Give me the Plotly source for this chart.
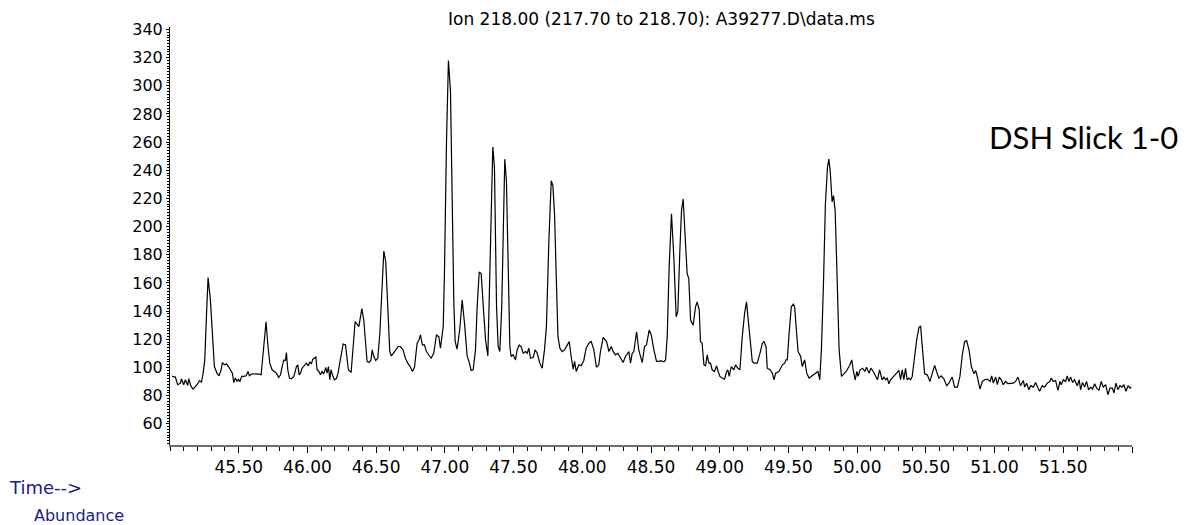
import plotly.graph_objects as go

# ---- data: retention time (min) and abundance ----
t_seg1 = [45.015, 45.039, 45.056, 45.076, 45.083, 45.100, 45.112, 45.129, 45.136, 45.153,
          45.168, 45.197, 45.214, 45.229, 45.241, 45.253, 45.265, 45.277, 45.294, 45.313,
          45.323, 45.342, 45.357, 45.372, 45.381, 45.396, 45.411, 45.425, 45.440, 45.454,
          45.464, 45.476, 45.488, 45.498, 45.508, 45.522, 45.537, 45.554, 45.568, 45.578,
          45.597, 45.622, 45.646, 45.663, 45.677, 45.690, 45.699, 45.711, 45.726, 45.743,
          45.760, 45.774, 45.791, 45.804, 45.816, 45.828, 45.840, 45.847, 45.857, 45.869,
          45.884, 45.901, 45.920, 45.930, 45.940, 45.949, 45.961, 45.978, 45.993, 46.007,
          46.017, 46.029, 46.039, 46.051, 46.061, 46.070, 46.083, 46.095, 46.107, 46.119,
          46.134, 46.143, 46.153, 46.163, 46.172, 46.182, 46.196, 46.211, 46.223, 46.235,
          46.247, 46.260, 46.277, 46.289, 46.298, 46.318, 46.332, 46.347, 46.361, 46.374,
          46.386, 46.396, 46.410, 46.422, 46.434, 46.449, 46.463, 46.471, 46.483, 46.497,
          46.512, 46.527, 46.539, 46.556, 46.570, 46.585, 46.599, 46.611, 46.628, 46.643,
          46.660, 46.677]
a_seg1 = [93.7, 93.2, 87.8, 88.9, 92.0, 87.8, 91.3, 87.3, 92.0, 86.6,
          84.7, 87.8, 90.6, 89.7, 96.0, 105.4, 136.0, 163.8, 147.8, 114.9,
          100.7, 96.0, 94.1, 98.4, 103.5, 101.9, 102.6, 100.7, 98.4, 96.0,
          89.4, 92.5, 90.1, 91.8, 89.9, 93.7, 93.7, 94.1, 97.2, 94.1,
          95.5, 95.5, 95.3, 94.8, 107.8, 124.3, 132.5, 117.2, 103.1, 98.4,
          97.2, 96.0, 92.9, 94.8, 100.7, 105.4, 105.0, 110.6, 98.4, 92.5,
          92.0, 93.7, 100.7, 101.9, 94.8, 96.0, 99.5, 101.2, 103.1, 101.2,
          104.0, 102.6, 105.9, 106.6, 107.8, 98.4, 97.2, 94.8, 97.2, 95.5,
          100.0, 96.0, 100.7, 91.3, 98.4, 94.8, 91.3, 92.2, 96.0, 103.1,
          110.1, 116.7, 116.0, 107.8, 98.4, 96.5, 112.5, 132.5, 130.8, 129.0,
          136.0, 141.9, 133.7, 117.2, 104.3, 103.5, 105.4, 112.5, 107.8, 105.0,
          106.6, 124.3, 152.5, 182.7, 174.9, 140.8, 111.3, 108.2, 110.1, 112.5,
          114.9, 114.9]

t_seg2 = [46.696, 46.713, 46.730, 46.750, 46.764, 46.779, 46.798, 46.810, 46.822, 46.837,
          46.851, 46.866, 46.883, 46.900, 46.919]
a_seg2 = [112.5, 106.6, 103.1, 100.2, 97.2, 100.2, 117.2, 119.1, 123.1, 116.0,
          116.0, 111.3, 108.9, 106.6, 110.1]

t_seg3 = [46.939, 46.956, 46.968, 46.988, 46.997, 47.012, 47.026, 47.041, 47.053, 47.065,
          47.075, 47.089, 47.108, 47.126, 47.143, 47.162, 47.179, 47.191, 47.206, 47.223,
          47.235, 47.250, 47.264, 47.279, 47.296, 47.313, 47.332, 47.349, 47.361, 47.376,
          47.388, 47.400, 47.414, 47.424, 47.436, 47.448, 47.463, 47.473, 47.482, 47.497,
          47.514, 47.526, 47.541, 47.555, 47.570, 47.587, 47.599, 47.611, 47.623, 47.643,
          47.657, 47.672, 47.691, 47.708, 47.725, 47.739, 47.757, 47.774, 47.786, 47.798,
          47.810, 47.823, 47.837, 47.854, 47.871, 47.886, 47.905, 47.919, 47.934, 47.944,
          47.956, 47.975, 47.992, 48.011, 48.028, 48.048, 48.065, 48.084, 48.103, 48.120,
          48.132, 48.152, 48.177, 48.194, 48.211, 48.225, 48.242, 48.259, 48.278]
a_seg3 = [123.1, 121.9, 113.7, 129.0, 166.7, 260.9, 317.9, 296.2, 213.8, 147.8,
          118.4, 113.0, 126.6, 147.8, 131.3, 108.3, 103.1, 97.9, 98.4, 112.5,
          143.1, 167.8, 166.7, 147.8, 119.6, 108.3, 178.4, 256.6, 242.0, 143.1,
          114.9, 111.3, 143.1, 190.2, 247.9, 232.6, 143.1, 114.9, 107.8, 109.0,
          105.4, 112.5, 116.0, 114.9, 110.1, 111.3, 110.1, 113.7, 106.6, 107.3,
          112.5, 110.1, 103.1, 99.5, 112.5, 129.0, 190.2, 232.6, 229.1, 209.1,
          166.7, 121.9, 113.7, 111.3, 112.5, 114.9, 118.4, 107.8, 98.8, 104.3,
          97.2, 101.9, 101.2, 105.0, 113.7, 117.2, 118.4, 112.5, 100.2, 101.9,
          111.3, 121.4, 118.4, 111.3, 114.9, 111.3, 109.0, 110.1, 106.6]

t_seg4 = [48.297, 48.314, 48.339, 48.351, 48.363, 48.375, 48.395, 48.411, 48.436, 48.453,
          48.467, 48.487, 48.502, 48.521, 48.540, 48.557, 48.569, 48.594, 48.606, 48.618,
          48.632, 48.649, 48.666, 48.683, 48.695, 48.710, 48.722, 48.734, 48.751, 48.763,
          48.775, 48.788, 48.807, 48.824, 48.836, 48.851, 48.860, 48.872, 48.885, 48.897,
          48.909, 48.921, 48.933, 48.945, 48.962, 48.977, 48.989, 49.001, 49.018, 49.035,
          49.050, 49.059, 49.069, 49.084, 49.103, 49.115, 49.132, 49.147, 49.164, 49.181,
          49.195, 49.210, 49.225, 49.237, 49.249, 49.273, 49.293, 49.310, 49.322, 49.337,
          49.346, 49.366, 49.383, 49.395, 49.407, 49.431, 49.456, 49.473, 49.482, 49.492,
          49.504, 49.521, 49.536, 49.545, 49.558, 49.570, 49.589, 49.601, 49.618, 49.633,
          49.650, 49.667, 49.681, 49.698, 49.715, 49.728, 49.740, 49.755, 49.769, 49.784,
          49.794, 49.804, 49.818, 49.828, 49.840, 49.852, 49.869, 49.886, 49.906, 49.920,
          49.944, 49.961, 49.973, 49.986, 49.998, 50.007, 50.022, 50.039, 50.056, 50.068,
          50.087, 50.100, 50.117, 50.131, 50.148, 50.163]
a_seg4 = [103.5, 107.8, 111.3, 103.1, 110.1, 111.3, 125.4, 112.5, 103.5, 114.8,
          116.0, 126.6, 123.1, 112.5, 104.3, 104.3, 104.9, 104.0, 105.4, 121.9,
          171.4, 209.1, 178.4, 136.0, 139.6, 183.2, 211.4, 219.6, 185.5, 166.7,
          163.1, 133.7, 130.1, 143.1, 146.6, 140.8, 118.4, 117.2, 101.9, 101.2,
          109.0, 103.1, 103.1, 98.4, 97.2, 101.2, 97.2, 93.7, 92.5, 91.8,
          97.2, 98.4, 93.7, 100.7, 98.4, 101.9, 99.5, 98.4, 121.9, 138.4,
          146.6, 131.3, 119.6, 104.3, 103.1, 103.1, 110.1, 117.2, 118.4, 114.8,
          99.5, 98.4, 96.0, 91.3, 96.0, 97.2, 101.9, 103.1, 105.4, 105.4,
          123.1, 143.1, 145.0, 143.1, 126.6, 111.3, 107.8, 100.7, 105.4, 96.0,
          92.5, 93.7, 94.8, 95.5, 97.2, 91.3, 112.5, 159.6, 216.1, 242.0,
          247.9, 239.6, 217.5, 222.0, 211.4, 171.4, 112.5, 93.7, 96.0, 97.2,
          101.2, 105.4, 97.2, 91.3, 97.2, 93.7, 98.4, 99.5, 97.2, 100.2,
          96.0, 99.5, 97.2, 94.1, 91.3, 98.4]

t_seg5 = [50.182, 50.195, 50.207, 50.219, 50.231, 50.243, 50.263, 50.280, 50.292, 50.304,
          50.316, 50.328, 50.340, 50.352, 50.364, 50.377, 50.389, 50.401, 50.413, 50.433,
          50.450, 50.462, 50.474, 50.491, 50.510, 50.530, 50.547, 50.564, 50.578, 50.595,
          50.612, 50.632, 50.651, 50.668, 50.680, 50.692, 50.709, 50.729, 50.748, 50.765,
          50.782, 50.797, 50.814, 50.831, 50.850, 50.862, 50.874, 50.894, 50.911, 50.928,
          50.947, 50.967, 50.979, 50.991, 51.008, 51.020, 51.034, 51.049, 51.063, 51.080,
          51.097, 51.117, 51.136, 51.153, 51.170, 51.189, 51.209, 51.219, 51.233, 51.250,
          51.262, 51.282, 51.299, 51.316, 51.328, 51.347, 51.364, 51.383, 51.403, 51.412,
          51.427, 51.444, 51.461, 51.476, 51.485, 51.500, 51.517, 51.529, 51.541, 51.553,
          51.568, 51.582, 51.602, 51.616, 51.626, 51.640, 51.655, 51.669, 51.684, 51.699,
          51.713, 51.728, 51.743, 51.760, 51.776, 51.791, 51.808, 51.825, 51.840, 51.857,
          51.869, 51.883, 51.898, 51.912, 51.927, 51.941, 51.956, 51.971, 51.985, 51.995]
a_seg5 = [91.3, 93.2, 91.3, 92.5, 88.5, 91.3, 93.2, 95.5, 96.5, 97.9,
          91.3, 98.4, 91.3, 99.5, 91.3, 92.5, 91.3, 93.7, 104.3, 119.6,
          128.5, 129.4, 114.8, 95.5, 94.8, 90.1, 96.0, 101.4, 97.2, 92.5,
          94.1, 91.8, 87.1, 88.9, 91.3, 93.2, 86.1, 86.1, 93.7, 108.9,
          118.4, 119.1, 112.5, 100.7, 95.5, 97.9, 93.7, 84.7, 90.1, 91.3,
          91.8, 90.1, 94.1, 88.9, 93.2, 87.8, 93.2, 91.3, 87.8, 90.1,
          88.5, 88.9, 88.9, 90.1, 93.2, 87.1, 90.8, 86.1, 88.9, 84.2,
          87.1, 86.1, 89.4, 85.4, 83.1, 87.1, 86.1, 88.9, 90.1, 92.5,
          90.1, 90.8, 83.8, 90.1, 87.8, 91.3, 90.1, 94.1, 90.1, 93.2,
          89.4, 91.3, 87.1, 91.3, 84.2, 89.4, 86.1, 90.1, 84.2, 86.1,
          84.7, 88.5, 85.4, 83.8, 90.1, 86.1, 87.8, 80.7, 85.4, 85.4,
          81.9, 88.9, 84.2, 87.1, 86.1, 87.8, 83.1, 87.1, 85.4, 86.1]

x_tick_vals = [45.5, 46.0, 46.5, 47.0, 47.5, 48.0, 48.5, 49.0, 49.5, 50.0, 50.5, 51.0, 51.5, 52.0]
x_tick_text = ["45.50", "46.00", "46.50", "47.00", "47.50", "48.00", "48.50", "49.00",
               "49.50", "50.00", "50.50", "51.00", "51.50", ""]
y_tick_vals = [60, 80, 100, 120, 140, 160, 180, 200, 220, 240, 260, 280, 300, 320, 340]

title_text = "Ion 218.00 (217.70 to 218.70): A39277.D\\data.ms"
sample_label = "DSH Slick 1-0"
x_label = "Time-->"
y_label = "Abundance"

times = t_seg1 + t_seg2 + t_seg3 + t_seg4 + t_seg5
abund = a_seg1 + a_seg2 + a_seg3 + a_seg4 + a_seg5
assert len(times) == len(abund)

FONT = "DejaVu Sans"

fig = go.Figure(go.Scatter(x=times, y=abund, mode="lines",
                           line=dict(color="black", width=1.2),
                           hoverinfo="x+y"))

# the page body adds an 8px margin, so the figure is 8px smaller on each axis
fig.update_layout(
    width=1179, height=517,
    margin=dict(l=162, r=55, t=17, b=80),
    paper_bgcolor="white", plot_bgcolor="white",
    showlegend=False,
    xaxis=dict(range=[45.0, 52.0], showline=True, linecolor="#6e6e6e", linewidth=1.5,
               showgrid=False, zeroline=False, ticks="outside", ticklen=6, tickwidth=1,
               tickcolor="black", tickmode="array", tickvals=x_tick_vals, ticktext=x_tick_text,
               tickfont=dict(family=FONT, size=17, color="black"),
               minor=dict(tick0=45.0, dtick=0.1, ticks="outside", ticklen=4,
                          tickcolor="black", tickwidth=1, showgrid=False)),
    yaxis=dict(range=[45, 341.7], showline=True, linecolor="black", linewidth=1,
               showgrid=False, zeroline=False, ticks="outside", ticklen=3, tickwidth=1,
               tickcolor="black", tickmode="array", tickvals=y_tick_vals,
               tickfont=dict(family=FONT, size=16, color="black"),
               minor=dict(tick0=0, dtick=2, ticks="outside", ticklen=2,
                          tickcolor="black", tickwidth=1, showgrid=False)),
    annotations=[
        dict(text=title_text, xref="paper", yref="paper", x=0.511, y=1.019,
             xanchor="center", yanchor="middle", showarrow=False,
             font=dict(family=FONT, size=17, color="black")),
        dict(text=sample_label, xref="paper", yref="paper", x=0.9496, y=0.736,
             xanchor="center", yanchor="middle", showarrow=False,
             font=dict(family="Lato", size=31, color="black")),
        dict(text=x_label, xref="paper", yref="paper", x=-0.1694, y=-0.1024,
             xanchor="left", yanchor="middle", showarrow=False,
             font=dict(family=FONT, size=18, color="#1a1a8c")),
        dict(text=y_label, xref="paper", yref="paper", x=-0.1435, y=-0.169,
             xanchor="left", yanchor="middle", showarrow=False,
             font=dict(family=FONT, size=16, color="#1a1a8c")),
    ],
)

fig.write_html("out.html")
